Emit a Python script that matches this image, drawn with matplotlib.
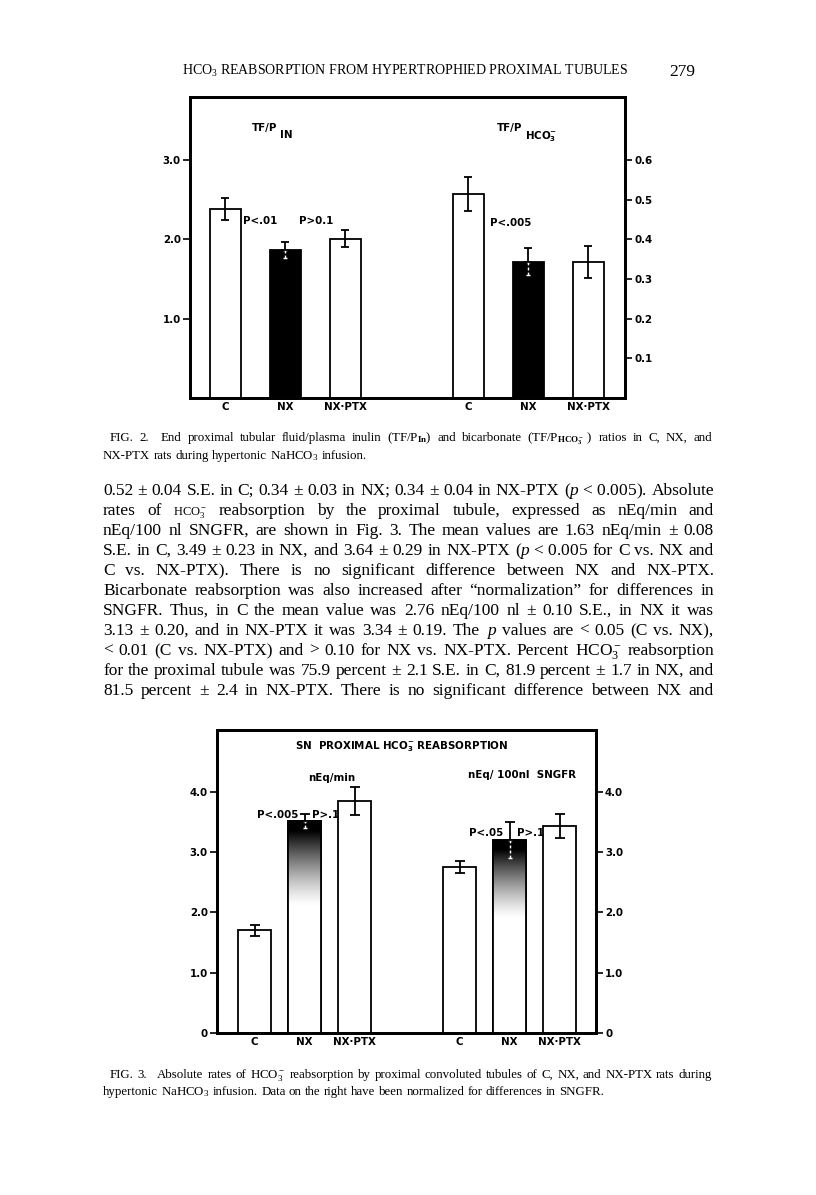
import matplotlib
matplotlib.use("Agg")
import numpy as np
import matplotlib.pyplot as plt

W, H = 816, 1195

groups = ["C", "NX", "NX·PTX"]

# Fig. 2 : TF/P inulin (left scale) and TF/P HCO3 (right scale)
tfp_in_mean = [2.38, 1.87, 2.01]
tfp_in_se = [0.14, 0.10, 0.11]
tfp_hco3_mean = [0.514, 0.344, 0.342]
tfp_hco3_se = [0.042, 0.034, 0.040]
fig2_left_ticks = [1.0, 2.0, 3.0]
fig2_right_ticks = [0.1, 0.2, 0.3, 0.4, 0.5, 0.6]

# Fig. 3 : HCO3 reabsorption, nEq/min (left) and nEq/100 nl SNGFR (right)
rate_min_mean = [1.70, 3.52, 3.85]
rate_min_se = [0.09, 0.12, 0.23]
rate_sngfr_mean = [2.76, 3.20, 3.43]
rate_sngfr_se = [0.10, 0.30, 0.20]
fig3_ticks = [0, 1.0, 2.0, 3.0, 4.0]

header = r"HCO$_3$ REABSORPTION FROM HYPERTROPHIED PROXIMAL TUBULES"
page_no = "279"

cap2 = [
    "FIG. 2. End proximal tubular fluid/plasma inulin (TF/P$_{\\mathbf{In}}$) and bicarbonate "
    "(TF/P$_{\\mathbf{HCO_3^-}}$~) ratios in C, NX, and",
    "NX-PTX rats during hypertonic NaHCO$_3$ infusion.",
]
cap3 = [
    "FIG. 3. Absolute rates of HCO$_3^-$ reabsorption by proximal convoluted tubules of C, NX, "
    "and NX-PTX rats during",
    "hypertonic NaHCO$_3$ infusion. Data on the right have been normalized for differences in SNGFR.",
]
body = [
    "0.52 ± 0.04 S.E. in C; 0.34 ± 0.03 in NX; 0.34 ± 0.04 in NX-PTX ($\\mathit{p}$~<~0.005). Absolute",
    "rates of @HCO3 reabsorption by the proximal tubule, expressed as nEq/min and",
    "nEq/100 nl SNGFR, are shown in Fig. 3. The mean values are 1.63 nEq/min ± 0.08",
    "S.E. in C, 3.49 ± 0.23 in NX, and 3.64 ± 0.29 in NX-PTX ($\\mathit{p}$~<~0.005 for C vs. NX and",
    "C vs. NX-PTX). There is no significant difference between NX and NX-PTX.",
    "Bicarbonate reabsorption was also increased after \u201cnormalization\u201d for differences in",
    "SNGFR. Thus, in C the mean value was 2.76 nEq/100 nl ± 0.10 S.E., in NX it was",
    "3.13 ± 0.20, and in NX-PTX it was 3.34 ± 0.19. The $\\mathit{p}$ values are < 0.05 (C vs. NX),",
    "< 0.01 (C vs. NX-PTX) and > 0.10 for NX vs. NX-PTX. Percent HCO$_3^-$ reabsorption",
    "for the proximal tubule was 75.9 percent ± 2.1 S.E. in C, 81.9 percent ± 1.7 in NX, and",
    "81.5 percent ± 2.4 in NX-PTX. There is no significant difference between NX and",
]

plt.rcParams["mathtext.fontset"] = "custom"
plt.rcParams["mathtext.rm"] = "Liberation Serif"
plt.rcParams["mathtext.it"] = "Liberation Serif:italic"
plt.rcParams["mathtext.bf"] = "Liberation Serif:bold"
plt.rcParams["mathtext.sf"] = "DejaVu Sans:bold"

SERIF = ["Liberation Serif", "DejaVu Sans"]
SANS = "DejaVu Sans"
CS = 7.4  # chart label size

fig = plt.figure(figsize=(W / 100, H / 100), dpi=100)
fig.patch.set_facecolor("white")
R = fig.canvas.get_renderer()


def fx(x):
    return x / W


def fy(y):
    return 1 - y / H


def rect(x0, y0, x1, y1):
    return [fx(x0), fy(y1), (x1 - x0) / W, (y1 - y0) / H]


def make_words(text, y, size):
    objs, ws = [], []
    for w in text.split(" "):
        scale = 1.0
        if w.startswith("@"):
            w, scale = r"$\mathrm{HCO_3^-}$", 0.72
        t = fig.text(0, fy(y), w.replace("~", " "), fontsize=size * scale,
                     family=SERIF, va="baseline", ha="left")
        objs.append(t)
        ws.append(t.get_window_extent(R).width)
    return objs, ws


def natural_width(text, size):
    objs, ws = make_words(text, 0, size)
    for o in objs:
        o.remove()
    return sum(ws) + (len(ws) - 1) * size * 0.25 * 100 / 72


def fit_size(lines, target, s0=10.0):
    return s0 * target / max(natural_width(l, s0) for l in lines)


def put_line(text, y, x0, x1, size, justify=True, lead_gap=0):
    objs, ws = make_words(text, y, size)
    if justify:
        gap = (x1 - x0 - sum(ws) - lead_gap) / (len(ws) - 1)
    else:
        gap = size * 0.25 * 100 / 72
    x = x0
    for i, (t, w) in enumerate(zip(objs, ws)):
        t.set_x(fx(x))
        x += w + gap
        if lead_gap and i == 1:
            x += lead_gap
    return gap


def draw_bars(ax, pos, vals, errs, width, shades, capsize, lw):
    for x, v, e, sh in zip(pos, vals, errs, shades):
        face = "black" if sh == "solid" else "white"
        patch = ax.bar(x, v, width, color=face, edgecolor="black", lw=lw, zorder=2)[0]
        if isinstance(sh, tuple):
            lo, hi = sh
            yy = np.linspace(0, v, 300)[:, None]
            shade = np.clip((yy - lo) / (hi - lo), 0, 1) ** 1.3
            im = ax.imshow(shade, cmap="gray_r", vmin=0, vmax=1, origin="lower",
                           extent=[x - width / 2, x + width / 2, 0, v], aspect="auto",
                           interpolation="bilinear", zorder=2.5)
            im.set_clip_path(patch)
            ax.bar(x, v, width, fill=False, edgecolor="black", lw=lw, zorder=3)
        if sh is None:
            ax.errorbar(x, v, yerr=e, fmt="none", ecolor="black", elinewidth=lw,
                        capsize=capsize, capthick=lw, zorder=4)
        else:
            eb = ax.errorbar(x, v, yerr=[[e], [0]], fmt="none", ecolor="white",
                             elinewidth=lw * 0.8, capsize=capsize * 0.5,
                             capthick=lw * 0.8, zorder=4)
            eb[2][0].set_linestyle((0, (2, 1.5)))
            ax.errorbar(x, v, yerr=[[0], [e]], fmt="none", ecolor="black", elinewidth=lw,
                        capsize=capsize, capthick=lw, zorder=5)


def style_axes(ax, ax2, frame_lw, tick_len):
    for a in (ax, ax2):
        for s in a.spines.values():
            s.set_linewidth(frame_lw)
        a.tick_params(axis="y", direction="out", length=tick_len, width=1.2,
                      pad=1.5, labelsize=CS)
        for lab in a.get_yticklabels():
            lab.set_fontweight("bold")
            lab.set_family(SANS)
    ax.tick_params(axis="x", length=0, pad=3, labelsize=CS)
    for lab in ax.get_xticklabels():
        lab.set_fontweight("bold")
        lab.set_family(SANS)


# ---------------- header ----------------
t = fig.text(fx(182), fy(75), header, family=SERIF, fontsize=9, va="baseline")
t.set_fontsize(9 * 446 / t.get_window_extent(R).width)
fig.text(fx(695), fy(76), page_no, family=SERIF, fontsize=12.5, va="baseline", ha="right")

ctext = dict(family=SANS, fontweight="bold", fontsize=CS)

# ---------------- Fig. 2 ----------------
ax = fig.add_axes(rect(190, 97, 625, 398))
ax2 = ax.twinx()
top2 = (398 - 97) / 238 * 3.0
pos_l = [0, 1, 2]
pos_r = [4.05, 5.05, 6.05]
bw = 0.52
draw_bars(ax, pos_l, tfp_in_mean, tfp_in_se, bw, [None, "solid", None], 3, 1.3)
draw_bars(ax2, pos_r, tfp_hco3_mean, tfp_hco3_se, bw, [None, "solid", None], 3, 1.3)
ax.set_xlim(-0.59, 6.66)
ax.set_ylim(0, top2)
ax2.set_ylim(0, top2 / 5)
ax.set_xticks(pos_l + pos_r, labels=groups * 2)
ax.set_yticks(fig2_left_ticks, labels=[f"{v:.1f}" for v in fig2_left_ticks])
ax2.set_yticks(fig2_right_ticks, labels=[f"{v:.1f}" for v in fig2_right_ticks])
style_axes(ax, ax2, 2.0, 5)

fig.text(fx(252), fy(131), "TF/P", va="baseline", **ctext)
fig.text(fx(280), fy(138), "IN", va="baseline", **ctext)
fig.text(fx(497), fy(131), "TF/P", va="baseline", **ctext)
fig.text(fx(525), fy(140), r"HCO$_{\mathsf{3}}^{\mathsf{-}}$", va="baseline", **ctext)
fig.text(fx(243), fy(224), "P<.01", va="baseline", **ctext)
fig.text(fx(299), fy(224), "P>0.1", va="baseline", **ctext)
fig.text(fx(490), fy(226), "P<.005", va="baseline", **ctext)

# ---------------- captions + body ----------------
cap_size = fit_size([cap3[1]], 502)
body_size = fit_size(body, 609)

put_line(cap2[0], 441, 110, 712, cap_size, lead_gap=6)
put_line(cap2[1], 459, 103, 712, cap_size, justify=False)

for i, line in enumerate(body):
    put_line(line, 495 + i * 20, 103, 714, body_size)

# ---------------- Fig. 3 ----------------
bx = fig.add_axes(rect(217, 730, 596, 1033))
bx2 = bx.twinx()
top3 = (1033 - 730) / 60.3
pos_l3 = [0, 1, 2]
pos_r3 = [4.1, 5.1, 6.1]
bw3 = 0.66
draw_bars(bx, pos_l3, rate_min_mean, rate_min_se, bw3, [None, (2.1, 3.35), None], 3.5, 1.3)
draw_bars(bx2, pos_r3, rate_sngfr_mean, rate_sngfr_se, bw3, [None, (1.9, 3.05), None], 3.5, 1.3)
bx.set_xlim(-0.75, 6.83)
bx.set_ylim(0, top3)
bx2.set_ylim(0, top3)
bx.set_xticks(pos_l3 + pos_r3, labels=groups * 2)
tl = ["0" if v == 0 else f"{v:.1f}" for v in fig3_ticks]
bx.set_yticks(fig3_ticks, labels=tl)
bx2.set_yticks(fig3_ticks, labels=tl)
style_axes(bx, bx2, 2.0, 5)

fig.text(fx(402), fy(749), r"SN  PROXIMAL HCO$_{\mathsf{3}}^{\mathsf{-}}$ REABSORPTION",
         ha="center", va="baseline", **ctext)
fig.text(fx(332), fy(781), "nEq/min", ha="center", va="baseline", **ctext)
fig.text(fx(522), fy(778), "nEq/ 100nl  SNGFR", ha="center", va="baseline", **ctext)
fig.text(fx(298), fy(818), "P<.005", ha="right", va="baseline", **ctext)
fig.text(fx(312), fy(818), "P>.1", ha="left", va="baseline", **ctext)
fig.text(fx(503), fy(836), "P<.05", ha="right", va="baseline", **ctext)
fig.text(fx(517), fy(836), "P>.1", ha="left", va="baseline", **ctext)

put_line(cap3[0], 1078, 110, 712, cap_size, lead_gap=6)
put_line(cap3[1], 1095, 103, 712, cap_size, justify=False)

fig.savefig("out.png", dpi=100, facecolor="white")
